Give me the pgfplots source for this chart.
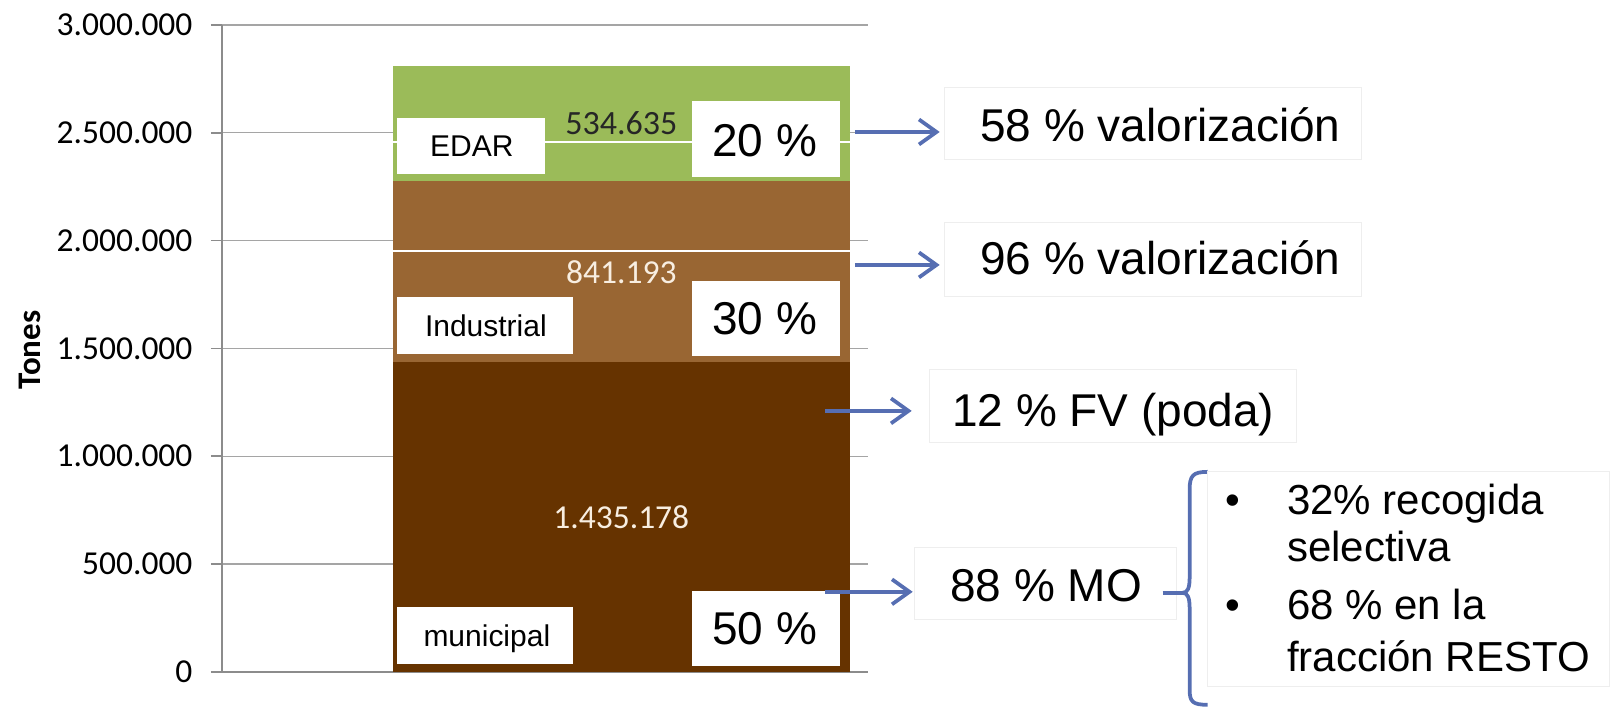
\documentclass[border=0pt]{standalone}
\usepackage{pgfplots}
\pgfplotsset{compat=1.18}
\usetikzlibrary{arrows.meta}
\usepackage{fontspec}
\setmainfont{Carlito}
\newfontfamily\arial{Liberation Sans}

\definecolor{edar}{RGB}{155,187,89}
\definecolor{indus}{RGB}{153,102,51}
\definecolor{muni}{RGB}{102,51,0}
\definecolor{arrowblue}{RGB}{86,110,178}
\definecolor{axisgray}{RGB}{140,140,140}
\definecolor{gridgray}{RGB}{165,165,165}
\definecolor{boxedge}{RGB}{238,238,238}
\definecolor{lightlabel}{RGB}{248,238,225}

\newcommand\fs[1]{\fontsize{#1}{#1}\selectfont}
\pgfkeys{/pgf/number format/.cd, fixed, precision=0, 1000 sep={.}, assume math mode=true}

\begin{document}
\begin{tikzpicture}
\begin{scope}[x=0.4pt,y=0.4pt]
\useasboundingbox (0,0) rectangle (1610,-706);
\end{scope}
\begin{axis}[
  at={(88.8pt,-268.8pt)}, anchor=south west,
  scale only axis, width=258.4pt, height=258.8pt,
  xmin=-399.5, xmax=246.5, ymin=0, ymax=3000000,
  ybar stacked, bar width=457,
  xtick=\empty,
  ytick={0,500000,1000000,1500000,2000000,2500000,3000000},
  scaled y ticks=false,
  ymajorgrids, grid style={gridgray, line width=0.5pt},
  axis x line*=bottom, axis y line*=left,
  axis line style={axisgray, line width=0.6pt, -},
  tick align=outside, major tick length=4.4pt,
  tick style={axisgray, line width=0.6pt},
  yticklabel style={font=\fs{13.4}, inner sep=0pt, xshift=-7.2pt,
    /pgf/number format/.cd, fixed, precision=0, 1000 sep={.}, assume math mode=true},
  clip=false,
]
% municipal, industrial and EDAR tonnages, stacked
\addplot[fill=muni, draw=none] coordinates {(0,1435178)};
\addplot[fill=indus, draw=none] coordinates {(0,841193)};
\addplot[fill=edar, draw=none] coordinates {(0,534635)};

% middle of each segment, for the value labels
\coordinate (cMuni)  at (axis cs:0,717589);
\coordinate (cIndus) at (axis cs:0,1855774.5);
\coordinate (cEdar)  at (axis cs:0,2543688.5);
\end{axis}

% value labels
\node[font=\fs{13.6}, text=black!85, inner sep=0pt] at (cEdar) {\pgfmathprintnumber{534635}};
\node[font=\fs{13.4}, text=lightlabel, inner sep=0pt] at (cIndus) {\pgfmathprintnumber{841193}};
\node[font=\fs{13.4}, text=lightlabel, inner sep=0pt] at (cMuni) {\pgfmathprintnumber{1435178}};

\begin{scope}[x=0.4pt,y=0.4pt]
% axis title
\node[rotate=90, font=\bfseries\fs{13.2}, inner sep=0pt] at (30,-350) {Tones};

% light seams across the bar
\draw[white, line width=0.6pt] (393,-142) -- (850,-142);
\draw[white, line width=0.6pt] (393,-251) -- (850,-251);

% category tags on the bar
\fill[white] (397,-118) rectangle (545,-174);
\node[anchor=base, inner sep=0pt, font=\arial\fs{12}] at (472,-157) {EDAR};
\fill[white] (397,-297) rectangle (573,-354);
\node[anchor=base, inner sep=0pt, font=\arial\fs{12}] at (486,-337) {Industrial};
\fill[white] (397,-607) rectangle (573,-664);
\node[anchor=base, inner sep=0pt, font=\arial\fs{12}] at (487,-647) {municipal};

% share tags on the bar
\fill[white] (692,-101) rectangle (840,-177);
\node[anchor=base, inner sep=0pt, font=\arial\fs{18.4}] at (765,-157) {20 \%};
\fill[white] (692,-281) rectangle (840,-356);
\node[anchor=base, inner sep=0pt, font=\arial\fs{18.4}] at (765,-335) {30 \%};
\fill[white] (692,-591) rectangle (840,-666);
\node[anchor=base, inner sep=0pt, font=\arial\fs{18.4}] at (765,-645) {50 \%};

% arrows to the notes
\tikzset{note arrow/.style={arrowblue, line width=1.5pt, -{Straight Barb[length=7pt,width=10pt]}}}
\draw[note arrow] (855,-132) -- (940,-132);
\draw[note arrow] (855,-265) -- (940,-265);
\draw[note arrow] (825,-411) -- (912,-411);
\draw[note arrow] (825,-592) -- (913,-592);

% notes
\filldraw[fill=white, draw=boxedge, line width=0.4pt] (945,-88) rectangle (1362,-160);
\node[anchor=base west, inner sep=0pt, font=\arial\fs{18.4}] at (980,-142) {58 \% valorización};
\filldraw[fill=white, draw=boxedge, line width=0.4pt] (945,-223) rectangle (1362,-297);
\node[anchor=base west, inner sep=0pt, font=\arial\fs{18.4}] at (980,-275) {96 \% valorización};
\filldraw[fill=white, draw=boxedge, line width=0.4pt] (930,-370) rectangle (1297,-443);
\node[anchor=base west, inner sep=0pt, font=\arial\fs{18.4}] at (952,-427) {12 \% FV (poda)};
\filldraw[fill=white, draw=boxedge, line width=0.4pt] (915,-548) rectangle (1177,-620);
\node[anchor=base west, inner sep=0pt, font=\arial\fs{18.4}] at (950,-602) {88 \% MO};

% brace splitting the organic matter
\draw[arrowblue, line width=1.5pt] (1163,-593) -- (1183,-593);
\draw[arrowblue, line width=1.5pt, line join=round]
  (1208,-472) .. controls (1193,-472) and (1190,-476) .. (1190,-490)
  -- (1190,-578) .. controls (1190,-588) and (1188,-593) .. (1183,-593)
  .. controls (1188,-593) and (1190,-598) .. (1190,-608)
  -- (1190,-690) .. controls (1190,-702) and (1193,-705) .. (1208,-705);

\filldraw[fill=white, draw=boxedge, line width=0.4pt] (1208,-472) rectangle (1610,-687);
\node[anchor=base, inner sep=0pt, font=\arial\fs{16.8}] at (1233,-515) {•};
\node[anchor=base west, inner sep=0pt, font=\arial\fs{16.8}] at (1287,-515) {32\% recogida};
\node[anchor=base west, inner sep=0pt, font=\arial\fs{16.8}] at (1287,-562) {selectiva};
\node[anchor=base, inner sep=0pt, font=\arial\fs{16.8}] at (1233,-620) {•};
\node[anchor=base west, inner sep=0pt, font=\arial\fs{16.8}] at (1287,-620) {68 \% en la};
\node[anchor=base west, inner sep=0pt, font=\arial\fs{16.8}] at (1287,-672) {fracción RESTO};
\end{scope}
\end{tikzpicture}
\end{document}
